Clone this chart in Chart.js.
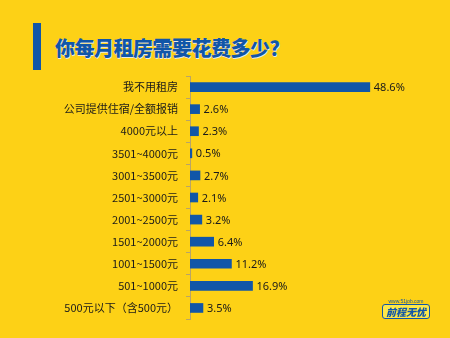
<!DOCTYPE html>
<html>
<head>
<meta charset="utf-8">
<script src="https://cdn.jsdelivr.net/npm/chart.js@4"></script>
<style>
  html, body { margin: 0; padding: 0; }
  body { width: 450px; height: 338px; background: #fdd116; position: relative; overflow: hidden;
         font-family: "Noto Sans CJK SC", "Noto Sans", sans-serif; }
  #wrap { position: absolute; left: 0; top: 0; width: 450px; height: 338px; }
  #titleBar { position: absolute; left: 33px; top: 23px; width: 8px; height: 47px; background: #1156a8; }
  #title { position: absolute; left: 55px; top: 33px; font-size: 20px; font-weight: 900; color: #1156a8;
           letter-spacing: -0.5px; text-shadow: 1px 1px 0 #e8e8e8; }
  #logo { position: absolute; left: 382px; top: 298px; width: 48px; }
  #logo .url { font-size: 5px; color: #1156a8; text-align: center; line-height: 6px; font-family: Arial, sans-serif; }
  #logo .box { background: #fde84a; border: 1px solid #1156a8; border-radius: 3px; color: #1156a8;
               font-size: 10px; font-weight: 900; font-style: italic; text-align: center; line-height: 13px; }
</style>
</head>
<body>
<div id="titleBar"></div>
<div id="title">你每月租房需要花费多少？</div>
<div id="wrap"><canvas id="chart" width="450" height="338"></canvas></div>
<div id="logo"><div class="url">www.51job.com</div><div class="box">前程无忧</div></div>
<script>
// 数据
const categories = ["我不用租房", "公司提供住宿/全额报销", "4000元以上", "3501~4000元", "3001~3500元",
  "2501~3000元", "2001~2500元", "1501~2000元", "1001~1500元", "501~1000元", "500元以下（含500元）"];
const values = [48.6, 2.6, 2.3, 0.5, 2.7, 2.1, 3.2, 6.4, 11.2, 16.9, 3.5];

// 数值标签
const valueLabels = {
  id: 'valueLabels',
  afterDatasetsDraw(chart) {
    const ctx = chart.ctx;
    const meta = chart.getDatasetMeta(0);
    ctx.save();
    ctx.font = '11px "Noto Sans", "DejaVu Sans", sans-serif';
    ctx.fillStyle = '#1a1a1a';
    ctx.textBaseline = 'middle';
    meta.data.forEach((bar, i) => {
      ctx.fillText(values[i].toFixed(1) + '%', bar.x + 4, bar.y + 1);
    });
    ctx.restore();
  }
};

new Chart(document.getElementById('chart'), {
  type: 'bar',
  data: {
    labels: categories,
    datasets: [{ data: values, backgroundColor: '#1156a8', barThickness: 9 }]
  },
  options: {
    indexAxis: 'y',
    responsive: false,
    animation: false,
    layout: { padding: { left: 0, right: 38, top: 76, bottom: 19 } },
    plugins: { legend: { display: false }, tooltip: { enabled: false } },
    scales: {
      x: { display: false, min: 0, max: 60 },
      y: {
        afterFit(s) { s.width = 190; },
        grid: { drawOnChartArea: false, offset: true, tickLength: 4, color: '#b8a468' },
        border: { color: '#b8a468' },
        ticks: { color: '#1a1a1a', font: { size: 11, family: '"Noto Sans CJK SC", sans-serif' }, padding: 8 }
      }
    }
  },
  plugins: [valueLabels]
});
</script>
</body>
</html>
